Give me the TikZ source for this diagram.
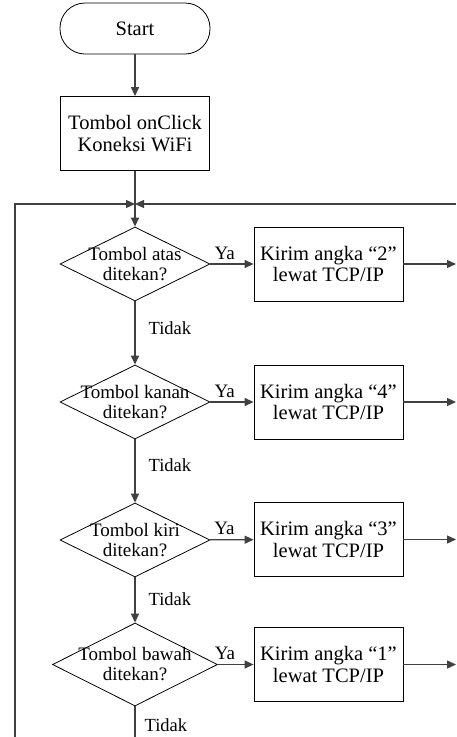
\documentclass[tikz,border=0pt]{standalone}
\usepackage{fontspec}
\setmainfont{Liberation Serif}
\usetikzlibrary{arrows.meta,shapes.geometric}
\begin{document}
\begin{tikzpicture}[x=1pt,y=-1pt,
  conn/.style={draw=black!75,line width=1.3pt},
  arr/.style={conn,-{Triangle[length=9pt,width=8pt]}},
  term/.style={draw,line width=0.8pt,rounded corners=25pt,minimum width=150pt,minimum height=51pt,inner sep=0pt,font=\fontsize{20.5}{21.7}\selectfont},
  proc/.style={draw,line width=0.8pt,minimum width=149pt,minimum height=74pt,inner sep=0pt,align=center,font=\fontsize{20.5}{21.7}\selectfont},
  dec/.style={draw,line width=0.8pt,diamond,inner sep=0pt,minimum width=150pt,minimum height=74pt},
  dtext/.style={align=center,inner sep=0pt,font=\fontsize{19}{20}\selectfont},
  ya/.style={above,inner sep=4pt,font=\fontsize{19}{20}\selectfont},
  tidak/.style={right,inner sep=0pt,xshift=13pt,font=\fontsize{18.5}{20}\selectfont}]
\useasboundingbox (0,0) rectangle (456,737);
\node[term] (start) at (135,28.5) {Start};
\node[proc] (conn) at (135,133.5) {Tombol onClick\\Koneksi WiFi};
\coordinate (j) at (135,204);
\coordinate (lt) at (15,204);
\coordinate (lb) at (15,737);
\coordinate (rt) at (456,204);
\node[dec] (d1) at (135,264) {};
\node[dtext] (t1) at (d1) {Tombol atas\\ditekan?};
\node[proc] (b1) at (328.5,264) {Kirim angka “2”\\lewat TCP/IP};
\node[dec] (d2) at (135,402) {};
\node[dtext] (t2) at (d2) {Tombol kanan\\ditekan?};
\node[proc] (b2) at (328.5,402) {Kirim angka “4”\\lewat TCP/IP};
\node[dec] (d3) at (135,540) {};
\node[dtext] (t3) at (d3) {Tombol kiri\\ditekan?};
\node[proc] (b3) at (328.5,539.5) {Kirim angka “3”\\lewat TCP/IP};
\node[dec,minimum width=165pt,minimum height=83pt] (d4) at (135,664.5) {};
\node[dtext] (t4) at (d4) {Tombol bawah\\ditekan?};
\node[proc] (b4) at (328.5,664.5) {Kirim angka “1”\\lewat TCP/IP};
\coordinate (r1) at (456,264);
\coordinate (r2) at (456,402);
\coordinate (r3) at (456,539.5);
\coordinate (r4) at (456,664.5);
\coordinate (bot) at (135,737);
\draw[arr] (start) -- (conn);
\draw[arr] (conn) -- (d1);
\draw[arr] (lb) -- (lt) -- (j);
\draw[arr] (rt) -- (j);
\draw[arr] (d1) -- node[ya,pos=0.33]{Ya} (b1);
\draw[arr] (d2) -- node[ya,pos=0.33]{Ya} (b2);
\draw[arr] (d3) -- node[ya,pos=0.33]{Ya} (b3);
\draw[arr] (d4.east) -- node[ya,pos=0.2]{Ya} (b4);
\draw[arr] (b1) -- (r1);
\draw[arr] (b2) -- (r2);
\draw[arr] (b3) -- (r3);
\draw[arr] (b4) -- (r4);
\draw[arr] (d1) -- node[tidak,pos=0.42]{Tidak} (d2);
\draw[arr] (d2) -- node[tidak,pos=0.4]{Tidak} (d3);
\draw[arr] (d3) -- node[tidak,pos=0.48]{Tidak} (d4);
\draw[conn] (d4) -- node[tidak,pos=0.6,xshift=-4pt]{Tidak} (bot);
\end{tikzpicture}
\end{document}
